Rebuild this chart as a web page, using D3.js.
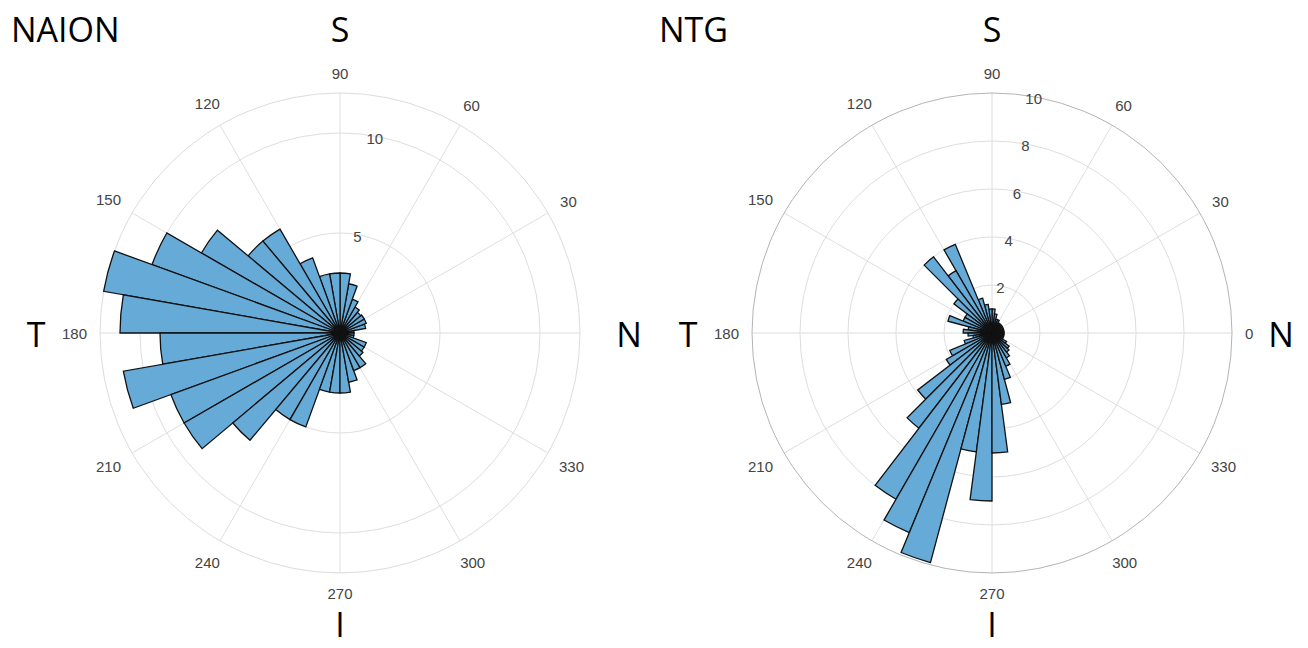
<!DOCTYPE html>
<html>
<head>
<meta charset="utf-8">
<script src="https://cdn.jsdelivr.net/npm/d3@7/dist/d3.min.js"></script>
<style>
  html, body { margin: 0; padding: 0; background: #fff; }
  svg { display: block; }
</style>
</head>
<body>
<svg id="chart" width="1308" height="648"></svg>
<script>
// Angular bins (degrees, counter-clockwise from 0 = N side)
const naionBinWidth = 10;
const naionCounts = [
  0.7, 1.3, 1.4, 1.4, 1.35, 1.5, 1.8, 2.5, 3,
  3, 3, 4, 6, 6, 8, 10, 12, 11,
  9, 11, 9, 9, 7, 5, 5, 3, 3,
  3, 2.5, 2, 2, 1.5, 1.4, 1.4, 0.7, 0.7
];
const ntgBinWidth = 7.5;
const ntgCounts = [
  0.5, 0.5, 0.5, 0.5, 0.5, 0.5, 0.5, 0.5, 0.6, 0.6, 0.8, 1,
  1, 1.2, 1.5, 4, 3, 4, 2, 1.3, 1.3, 1.9, 1, 1.2,
  1, 0.8, 1.2, 1.9, 2.2, 3.9, 5, 8, 9, 9.9, 5, 7,
  5, 3, 2, 1.5, 1.2, 1, 0.9, 0.7, 0.5, 0.5, 0.5, 0.5
];

const thetaTicks = [0, 30, 60, 90, 120, 150, 180, 210, 240, 270, 300, 330];
const naionRTicks = [5, 10];
const ntgRTicks = [2, 4, 6, 8, 10];
const naionRMax = 12;
const ntgRMax = 10;

const sideLabels = { top: "S", left: "T", right: "N", bottom: "I" };

const svg = d3.select("#chart");

function drawPolar(opts) {
  const { cx, cy, title, titleX, counts, binWidth, rMax, rTicks, showZero, outerStroke } = opts;
  const R = 240;
  const r = d3.scaleLinear().domain([0, rMax]).range([0, R]);
  const g = svg.append("g").attr("transform", `translate(${cx},${cy})`);
  const rad = d => d * Math.PI / 180;

  // grid circles
  g.selectAll("circle.grid").data(rTicks.filter(t => t < rMax)).join("circle")
    .attr("class", "grid").attr("r", d => r(d))
    .attr("fill", "none").attr("stroke", "#dedede").attr("stroke-width", 1);

  // spokes
  g.selectAll("line.spoke").data(thetaTicks).join("line")
    .attr("x1", 0).attr("y1", 0)
    .attr("x2", d => R * Math.cos(rad(d)))
    .attr("y2", d => -R * Math.sin(rad(d)))
    .attr("stroke", "#dedede").attr("stroke-width", 1);

  // outer boundary
  g.append("circle").attr("r", r(rMax))
    .attr("fill", "none").attr("stroke", outerStroke).attr("stroke-width", 1);

  // histogram wedges
  const arc = d3.arc().innerRadius(0);
  const bins = counts.map((v, i) => ({ a0: i * binWidth, a1: (i + 1) * binWidth, v }));
  g.selectAll("path.bar").data(bins).join("path")
    .attr("class", "bar")
    .attr("d", d => arc({
      outerRadius: r(d.v),
      startAngle: Math.PI / 2 - rad(d.a1),
      endAngle: Math.PI / 2 - rad(d.a0)
    }))
    .attr("fill", "rgb(102,170,215)")
    .attr("stroke", "#111").attr("stroke-width", 1.3)
    .attr("stroke-linejoin", "miter");

  // angular tick labels, pushed out along their ray by the text box extent
  const tl = g.selectAll("text.theta")
    .data(thetaTicks.filter(t => showZero || t !== 0)).join("text")
    .attr("class", "theta")
    .attr("font-family", "'Liberation Sans', Arial, sans-serif")
    .attr("font-size", 15).attr("fill", "#444")
    .attr("text-anchor", "middle").attr("dominant-baseline", "central")
    .text(d => d);
  tl.each(function (d) {
    const w = this.getComputedTextLength();
    const c = Math.cos(rad(d)), s = Math.sin(rad(d));
    const dist = R + 13 + (w / 2) * Math.abs(c) + 7 * Math.abs(s);
    d3.select(this).attr("x", dist * c).attr("y", -dist * s);
  });

  // radial tick labels along 80 degrees
  g.selectAll("text.rt").data(rTicks).join("text")
    .attr("font-family", "'Liberation Sans', Arial, sans-serif")
    .attr("font-size", 15).attr("fill", "#444")
    .attr("text-anchor", "middle").attr("dominant-baseline", "central")
    .attr("x", d => r(d) * Math.cos(rad(80)))
    .attr("y", d => -r(d) * Math.sin(rad(80)) + 2)
    .text(d => d);

  // panel title and side letters
  const big = { "font-family": "'Open Sans', 'Noto Sans', sans-serif", "font-size": 34, "fill": "#000" };
  const addBig = (x, y, t, anchor) => {
    const e = svg.append("text").attr("x", x).attr("y", y)
      .attr("text-anchor", anchor).text(t);
    Object.entries(big).forEach(([k, v]) => e.attr(k, v));
  };
  addBig(titleX, 42, title, "start");
  addBig(cx, 42, sideLabels.top, "middle");
  addBig(cx - 304, 347, sideLabels.left, "middle");
  addBig(cx + 289, 347, sideLabels.right, "middle");
  addBig(cx, 637, sideLabels.bottom, "middle");
}

drawPolar({
  cx: 340, cy: 333, title: "NAION", titleX: 11,
  counts: naionCounts, binWidth: naionBinWidth,
  rMax: naionRMax, rTicks: naionRTicks, showZero: false, outerStroke: "#dcdcdc"
});
drawPolar({
  cx: 992, cy: 333, title: "NTG", titleX: 659,
  counts: ntgCounts, binWidth: ntgBinWidth,
  rMax: ntgRMax, rTicks: ntgRTicks, showZero: true, outerStroke: "#b4b4b4"
});
</script>
</body>
</html>
